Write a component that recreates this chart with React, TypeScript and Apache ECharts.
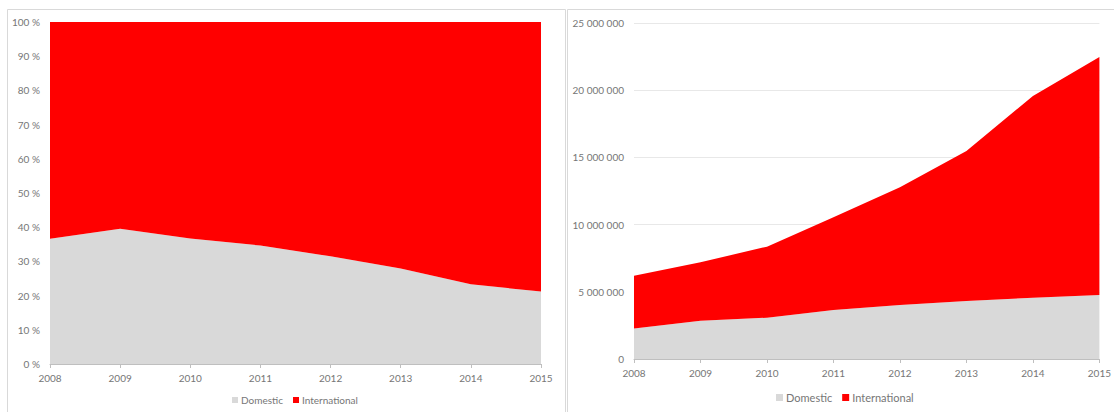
import React, { useEffect, useRef } from "react";
import * as echarts from "echarts";

const years = ["2008", "2009", "2010", "2011", "2012", "2013", "2014", "2015"];
const domestic = [2270000, 2850000, 3070000, 3650000, 4020000, 4320000, 4560000, 4760000];
const international = [3930000, 4350000, 5290000, 6890000, 8750000, 11160000, 15010000, 17710000];
const seriesNames = ["Domestic", "International"];

const share = (a: number[], b: number[]) => a.map((v, i) => (v / (v + b[i])) * 100);

const fmtSpace = (v: number) => String(v).replace(/\B(?=(\d{3})+(?!\d))/g, " ");

const GREY = "#d9d9d9";
const RED = "#ff0000";
const TXT = "#767676";
const FONT = "Lato, 'Liberation Sans', sans-serif";

export default function App() {
  const ref = useRef<HTMLDivElement>(null);
  useEffect(() => {
    document.body.style.margin = "0";
    if (!ref.current) return;
    const chart = echarts.init(ref.current, null, { renderer: "svg" });
    const domShare = share(domestic, international);
    const intShare = domShare.map((v) => 100 - v);
    const axisLabel = { color: TXT, fontSize: 10, fontFamily: FONT };
    const xAxisCommon = {
      type: "category" as const,
      data: years,
      boundaryGap: false,
      axisLine: { lineStyle: { color: "#bfbfbf" } },
      axisTick: { show: true, length: 4, lineStyle: { color: "#bfbfbf" } },
      axisLabel: { ...axisLabel, margin: 9 },
    };
    const area = (name: string, color: string, data: number[], xi: number, stack: string) => ({
      name,
      type: "line",
      stack,
      xAxisIndex: xi,
      yAxisIndex: xi,
      data,
      symbol: "none",
      lineStyle: { width: 0 },
      areaStyle: { color, opacity: 1 },
      itemStyle: { color },
      silent: true,
    });
    chart.setOption({
      animation: false,
      textStyle: { fontFamily: FONT },
      graphic: [
        { type: "rect", shape: { x: 7.5, y: 9.5, width: 558, height: 430 }, style: { fill: "none", stroke: "#d9d9d9", lineWidth: 1 } },
        { type: "rect", shape: { x: 567.5, y: 9.5, width: 600, height: 430 }, style: { fill: "none", stroke: "#d9d9d9", lineWidth: 1 } },
      ],
      grid: [
        { left: 50, top: 22, width: 491, height: 342 },
        { left: 634, top: 23, width: 466, height: 336 },
      ],
      legend: [
        {
          data: seriesNames,
          left: 227,
          top: 390,
          itemWidth: 6,
          itemHeight: 6,
          itemGap: 10,
          icon: "rect",
          textStyle: { ...axisLabel, padding: [0, 0, 0, -2] },
          selectedMode: false,
        },
        {
          data: seriesNames,
          left: 771,
          top: 387,
          itemWidth: 7,
          itemHeight: 7,
          itemGap: 10,
          icon: "rect",
          textStyle: { ...axisLabel, fontSize: 11, padding: [0, 0, 0, -2] },
          selectedMode: false,
        },
      ],
      xAxis: [
        { ...xAxisCommon, gridIndex: 0 },
        { ...xAxisCommon, gridIndex: 1 },
      ],
      yAxis: [
        {
          type: "value",
          gridIndex: 0,
          min: 0,
          max: 100,
          interval: 10,
          axisLabel: { ...axisLabel, margin: 10, formatter: "{value} %" },
          axisLine: { show: false },
          axisTick: { show: false },
          splitLine: { lineStyle: { color: "#e6e6e6" } },
        },
        {
          type: "value",
          gridIndex: 1,
          min: 0,
          max: 25000000,
          interval: 5000000,
          axisLabel: { ...axisLabel, margin: 10, formatter: (v: number) => fmtSpace(v) },
          axisLine: { show: false },
          axisTick: { show: false },
          splitLine: { lineStyle: { color: "#e8e8e8" } },
        },
      ],
      series: [
        area(seriesNames[0], GREY, domShare, 0, "a"),
        area(seriesNames[1], RED, intShare, 0, "a"),
        area(seriesNames[0], GREY, domestic, 1, "b"),
        area(seriesNames[1], RED, international, 1, "b"),
      ],
    });
    return () => chart.dispose();
  }, []);
  return <div ref={ref} style={{ position: "absolute", left: 0, top: 0, width: 1114, height: 412 }} />;
}
